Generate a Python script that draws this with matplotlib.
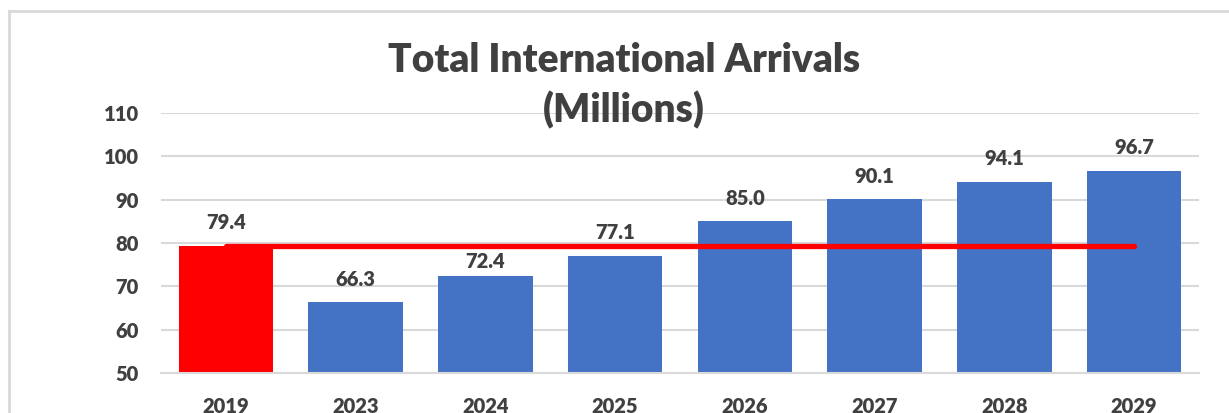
import matplotlib.pyplot as plt
from matplotlib.lines import Line2D

# data
years = ['2019', '2023', '2024', '2025', '2026', '2027', '2028', '2029']
arrivals = [79.4, 66.3, 72.4, 77.1, 85.0, 90.1, 94.1, 96.7]
baseline = [79.4] * len(years)

plt.rcParams['font.family'] = ['Lato', 'DejaVu Sans']
text_col = '#404040'
grid_col = '#D9D9D9'

fig = plt.figure(figsize=(12.29, 4.13), dpi=100)
ax = fig.add_axes([161 / 1229, 1 - 373 / 413, (1199 - 161) / 1229, 260 / 413])

x = list(range(len(years)))
colors = ['#FF0000'] + ['#4472C4'] * (len(years) - 1)
bars = ax.bar(x, arrivals, width=0.73, color=colors, zorder=2, bottom=0)
ax.plot(x, baseline, color='#FF0000', linewidth=3.8, solid_capstyle='round', zorder=3)

for xi, yr, v in zip(x, years, arrivals):
    # the 2024 label sits lower so it clears the red line
    off = 6 if yr == '2024' else 12
    ax.annotate(f'{v:.1f}', (xi, v), xytext=(0, off), textcoords='offset points',
                ha='center', va='baseline', fontsize=14.5, fontweight='heavy', color=text_col)

ax.set_xlim(-0.5, len(years) - 0.5)
ax.set_ylim(50, 110)
ax.set_yticks(range(50, 111, 10))
ax.set_xticks(x)
ax.set_xticklabels(years)
ax.tick_params(axis='both', length=0, labelsize=14.5, labelcolor=text_col)
ax.tick_params(axis='y', pad=16)
ax.tick_params(axis='x', pad=17)
for lab in ax.get_xticklabels() + ax.get_yticklabels():
    lab.set_fontweight('heavy')

ax.grid(axis='y', color=grid_col, linewidth=1.5, zorder=0)
ax.set_axisbelow(True)
for s in ['top', 'right', 'left']:
    ax.spines[s].set_visible(False)
ax.spines['bottom'].set_color(grid_col)
ax.spines['bottom'].set_linewidth(1.5)

fig.text(624 / 1229, 1 - 60 / 413, 'Total International Arrivals', ha='center', va='center',
         fontsize=28, fontweight='heavy', color=text_col)
fig.text(624 / 1229, 1 - 110 / 413, '(Millions)', ha='center', va='center',
         fontsize=28, fontweight='heavy', color=text_col)

# chart frame
fig.add_artist(Line2D([9 / 1229, 1], [1 - 11 / 413, 1 - 11 / 413], color=grid_col, linewidth=2,
                      transform=fig.transFigure))
fig.add_artist(Line2D([9 / 1229, 9 / 1229], [0, 1 - 11 / 413], color=grid_col, linewidth=2,
                      transform=fig.transFigure))

fig.savefig('out.png', dpi=100)
